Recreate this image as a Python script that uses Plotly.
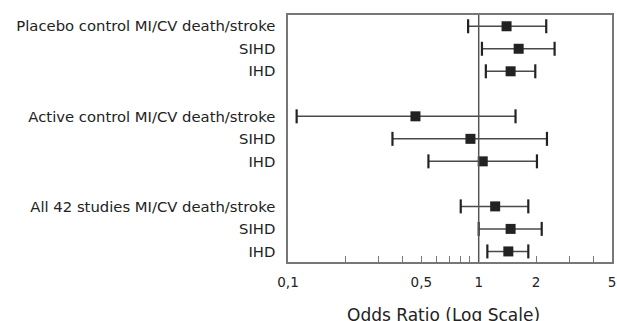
import plotly.graph_objects as go

labels = ["Placebo control MI/CV death/stroke", "SIHD", "IHD",
          "Active control MI/CV death/stroke", "SIHD", "IHD",
          "All 42 studies MI/CV death/stroke", "SIHD", "IHD"]
rows = [0, 1, 2, 4, 5, 6, 8, 9, 10]
odds = [1.40, 1.62, 1.47, 0.466, 0.905, 1.05, 1.22, 1.47, 1.43]
lower = [0.88, 1.04, 1.09, 0.111, 0.353, 0.545, 0.805, 1.00, 1.11]
upper = [2.26, 2.50, 1.98, 1.56, 2.28, 2.02, 1.82, 2.14, 1.82]

tick_vals = [0.1, 0.2, 0.3, 0.4, 0.5, 0.6, 0.7, 0.8, 0.9, 1, 2, 3, 4, 5]
tick_text = ["0,1", "", "", "", "0,5", "", "", "", "", "1", "2", "", "", "5"]

font = "DejaVu Sans, sans-serif"
dark = "#222222"

fig = go.Figure()

# whiskers
fig.add_trace(go.Scatter(
    x=odds, y=rows, mode="markers",
    marker=dict(size=0.1, color="rgba(0,0,0,0)"),
    error_x=dict(type="data", symmetric=False,
                 array=[u - o for u, o in zip(upper, odds)],
                 arrayminus=[o - l for o, l in zip(odds, lower)],
                 color="#4a4a4a", thickness=1.5, width=0),
    showlegend=False, hoverinfo="skip"))

# caps
fig.add_trace(go.Scatter(
    x=lower + upper, y=rows + rows, mode="markers",
    marker=dict(symbol="line-ns", size=10, line=dict(width=2.2, color=dark)),
    showlegend=False, hoverinfo="skip"))

# points
fig.add_trace(go.Scatter(
    x=odds, y=rows, mode="markers",
    marker=dict(symbol="square", size=10, color=dark),
    showlegend=False))

fig.add_shape(type="line", xref="x", yref="paper", x0=1, x1=1, y0=0, y1=1,
              line=dict(color="#555555", width=1.5))

fig.update_xaxes(type="log", range=[-1, 0.69897], automargin=False,
                 tickvals=tick_vals, ticktext=tick_text,
                 ticks="inside", ticklen=6, tickcolor="#777777", tickwidth=1,
                 showgrid=False, zeroline=False,
                 showline=True, linecolor="#777777", linewidth=1.5, mirror=True,
                 tickfont=dict(family=font, size=13.5, color=dark),
                 ticklabelstandoff=7)
fig.update_yaxes(range=[10.47, -0.5], automargin=False,
                 tickvals=rows, ticktext=labels,
                 ticks="", showgrid=False, zeroline=False,
                 showline=True, linecolor="#777777", linewidth=1.5, mirror=True,
                 tickfont=dict(family=font, size=14.8, color=dark),
                 ticklabelstandoff=8)

fig.add_annotation(text="Odds Ratio (Log Scale)", xref="paper", yref="paper",
                   x=0.479, y=-0.166, yanchor="top", showarrow=False,
                   font=dict(family=font, size=17, color=dark))

fig.update_layout(width=617, height=321, plot_bgcolor="white", paper_bgcolor="white",
                  margin=dict(l=288, r=5, t=15, b=59))

fig.write_html("out.html", config={"displayModeBar": False},
               post_script="document.body.style.margin='0';")
